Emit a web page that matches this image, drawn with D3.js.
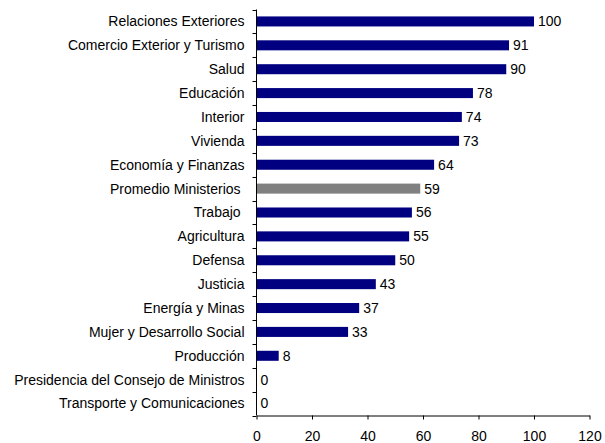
<!DOCTYPE html>
<html><head><meta charset="utf-8">
<script src="https://cdn.jsdelivr.net/npm/d3@7"></script>
<style>
body{margin:0;background:#fff;}
svg text{font-family:"Liberation Sans",Arial,sans-serif;white-space:pre;}
</style></head>
<body><svg id="c" width="605" height="443"></svg>
<script>
const categories = ["Relaciones Exteriores","Comercio Exterior y Turismo","Salud","Educación","Interior","Vivienda","Economía y Finanzas","Promedio Ministerios ","Trabajo ","Agricultura","Defensa","Justicia","Energía y Minas","Mujer y Desarrollo Social","Producción","Presidencia del Consejo de Ministros","Transporte y Comunicaciones"];
const values = [100,91,90,78,74,73,64,59,56,55,50,43,37,33,8,0,0];
const highlight = ["Promedio Ministerios "];
const xTicks = [0,20,40,60,80,100,120];

(function(){
const svg = d3.select("#c");
const fs = 14;
const mL = 256.5, mR = 589.5, mT = 9.5, mB = 415.5;
const x = d3.scaleLinear().domain([0,120]).range([mL,mR]);
const y = d3.scaleBand().domain(categories).range([mT,mB]).paddingInner(0.58).paddingOuter(0.29);

svg.selectAll("rect.bar").data(categories).enter().append("rect")
  .attr("class","bar")
  .attr("x", x(0))
  .attr("y", d=>y(d))
  .attr("width", (d,i)=>x(values[i])-x(0))
  .attr("height", y.bandwidth())
  .attr("fill", d=>highlight.includes(d)?"#808080":"#000080");

svg.selectAll("text.val").data(categories).enter().append("text")
  .attr("class","val")
  .attr("x",(d,i)=>x(values[i])+4)
  .attr("y",d=>y(d)+y.bandwidth()/2)
  .attr("dy","0.35em")
  .attr("font-size",fs)
  .attr("fill","#000")
  .text((d,i)=>values[i]);

const ya = svg.append("g");
ya.append("line").attr("x1",mL).attr("x2",mL).attr("y1",mT).attr("y2",mB).attr("stroke","#000");
const boundaries = d3.range(categories.length+1).map(i=>mT+i*(mB-mT)/categories.length);
ya.selectAll("line.t").data(boundaries).enter().append("line").attr("class","t")
  .attr("x1",mL-4).attr("x2",mL).attr("y1",d=>Math.round(d)+0.5).attr("y2",d=>Math.round(d)+0.5).attr("stroke","#000");
ya.selectAll("text").data(categories).enter().append("text")
  .attr("x",mL-12).attr("y",d=>y(d)+y.bandwidth()/2).attr("dy","0.35em")
  .attr("text-anchor","end").attr("font-size",fs).attr("fill","#000").text(d=>d);

const xa = svg.append("g").attr("transform",`translate(0,${mB})`)
  .call(d3.axisBottom(x).tickValues(xTicks).tickSize(4).tickSizeOuter(0).tickPadding(12));
xa.select(".domain").attr("stroke","#000");
xa.selectAll(".tick line").attr("stroke","#000");
xa.selectAll("text").attr("font-size",fs).attr("fill","#000").attr("font-family","Liberation Sans, Arial, sans-serif");
})();
</script></body></html>
